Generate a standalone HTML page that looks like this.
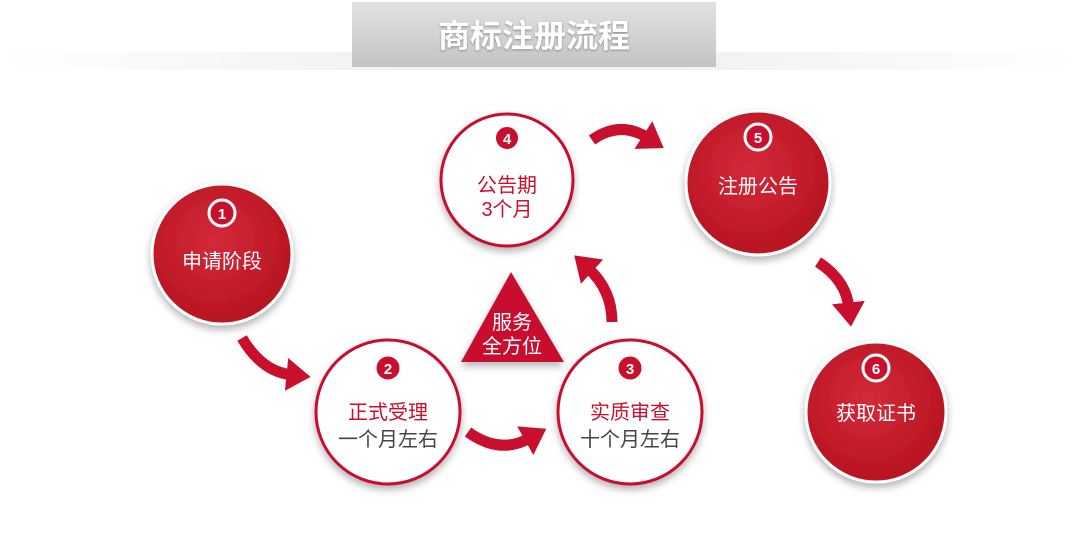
<!DOCTYPE html>
<html><head><meta charset="utf-8"><style>
body{margin:0;width:1080px;height:559px;background:#fff;overflow:hidden;position:relative;font-family:"Liberation Sans","Noto Sans CJK SC",sans-serif}
.t{position:absolute;left:352px;top:2px;width:364px;height:65px;background:linear-gradient(#e2e2e2,#c4c4c4);color:#fff;font-size:32px;font-weight:bold;text-align:center;line-height:68px;text-shadow:0 1px 2px #888}
.sh{position:absolute;left:0;top:52px;width:1080px;height:18px;background:linear-gradient(90deg,rgba(255,255,255,0),#f0f0f0 40%,#f0f0f0 60%,rgba(255,255,255,0))}
</style></head><body>
<div class="sh"></div>
<div class="t">商标注册流程</div>
<svg width="1080" height="559" style="position:absolute;left:0;top:0">
<defs>
<radialGradient id="rg" cx="45%" cy="40%" r="65%"><stop offset="0" stop-color="#d42a3a"/><stop offset="1" stop-color="#b5121f"/></radialGradient>
<filter id="ds" x="-20%" y="-20%" width="140%" height="150%"><feDropShadow dx="0" dy="4" stdDeviation="4" flood-color="#000" flood-opacity="0.3"/></filter>
<marker id="ah" markerWidth="3" markerHeight="3" refX="0.5" refY="1.5" orient="auto" markerUnits="strokeWidth"><path d="M0,0 L2.2,1.5 L0,3 Z" fill="#c8102e"/></marker>
</defs>
<g filter="url(#ds)">
<circle cx="222" cy="254" r="70" fill="url(#rg)" stroke="#fff" stroke-width="3"/>
<circle cx="758" cy="183" r="72" fill="url(#rg)" stroke="#fff" stroke-width="3"/>
<circle cx="876" cy="412" r="70" fill="url(#rg)" stroke="#fff" stroke-width="3"/>
<circle cx="507" cy="180" r="66" fill="#fff" stroke="#c8102e" stroke-width="3"/>
<circle cx="388" cy="412" r="72" fill="#fff" stroke="#c8102e" stroke-width="3"/>
<circle cx="630" cy="412" r="72" fill="#fff" stroke="#c8102e" stroke-width="3"/>
<polygon points="511,272 461,362 564,362" fill="#c8102e"/>
</g>
<g fill="none" stroke="#c8102e" stroke-width="11" marker-end="url(#ah)">
<path d="M242,338 Q262,372 292,375"/>
<path d="M592,140 Q620,120 648,138"/>
<path d="M612,322 Q612,290 588,268"/>
<path d="M468,432 Q500,455 530,438"/>
<path d="M818,262 Q846,280 849,308"/>
</g>
<g font-family="Liberation Sans,Noto Sans CJK SC,sans-serif" font-weight="bold" font-size="15" text-anchor="middle">
<circle cx="222" cy="213" r="13" fill="#c8102e" stroke="#fff" stroke-width="3"/><text x="222" y="219" fill="#fff">1</text>
<circle cx="507" cy="138" r="12" fill="#c8102e" stroke="#fff" stroke-width="2"/><text x="507" y="144" fill="#fff">4</text>
<circle cx="758" cy="137" r="13" fill="#c8102e" stroke="#fff" stroke-width="3"/><text x="758" y="143" fill="#fff">5</text>
<circle cx="388" cy="368" r="13" fill="#c8102e" stroke="#fff" stroke-width="3"/><text x="388" y="374" fill="#fff">2</text>
<circle cx="630" cy="368" r="13" fill="#c8102e" stroke="#fff" stroke-width="3"/><text x="630" y="374" fill="#fff">3</text>
<circle cx="876" cy="368" r="13" fill="#c8102e" stroke="#fff" stroke-width="3"/><text x="876" y="374" fill="#fff">6</text>
</g>
<g font-family="Liberation Sans,Noto Sans CJK SC,sans-serif" font-size="20" text-anchor="middle">
<text x="222" y="268" fill="#fff">申请阶段</text>
<text x="507" y="192" fill="#c8102e">公告期</text>
<text x="507" y="216" fill="#c8102e">3个月</text>
<text x="758" y="193" fill="#fff">注册公告</text>
<text x="388" y="419" fill="#c8102e">正式受理</text>
<text x="388" y="446" fill="#444">一个月左右</text>
<text x="630" y="419" fill="#c8102e">实质审查</text>
<text x="630" y="446" fill="#444">十个月左右</text>
<text x="876" y="420" fill="#fff">获取证书</text>
<text x="512" y="329" fill="#fff">服务</text>
<text x="512" y="353" fill="#fff">全方位</text>
</g>
</svg>
</body></html>
